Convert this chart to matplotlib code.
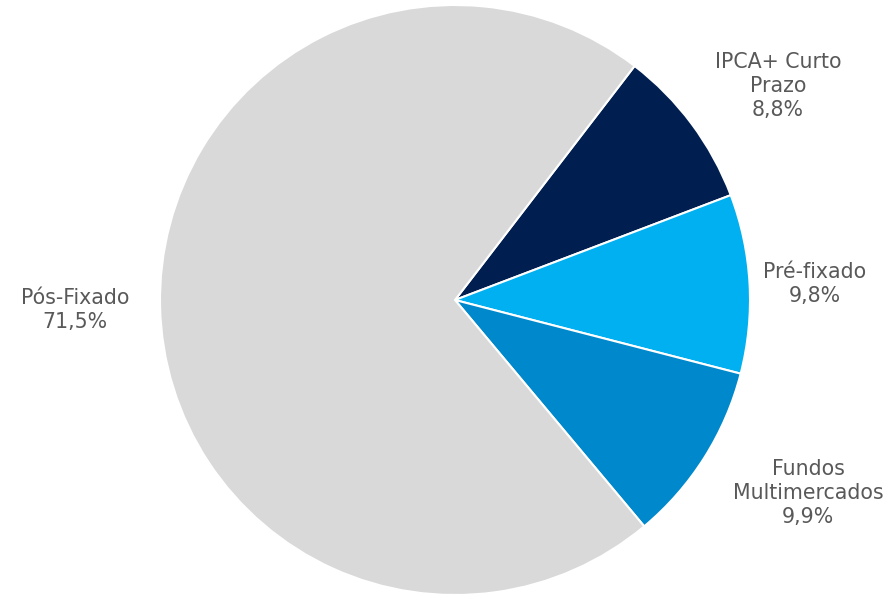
import matplotlib
matplotlib.use("Agg")
import matplotlib.pyplot as plt
import numpy as np

categories = ["IPCA+ Curto\nPrazo", "Pré-fixado", "Fundos\nMultimercados", "Pós-Fixado"]
values = [8.8, 9.8, 9.9, 71.5]
colors = ["#001E50", "#00B0F0", "#0088CC", "#D9D9D9"]

# label placement (layout only): (x, y) in axes data units
label_pos = [(1.095, 0.725), (1.22, 0.055), (1.197, -0.655), (-1.288, -0.035)]

W, H = 893, 598
fig = plt.figure(figsize=(W / 100, H / 100), dpi=100)
cx, cy, r = 455, 300, 295
ax = fig.add_axes([(cx - r) / W, (H - cy - r) / H, 2 * r / W, 2 * r / H])
ax.pie(values, colors=colors, startangle=52.5, counterclock=False, radius=1,
       wedgeprops=dict(edgecolor="white", linewidth=1.5))
ax.set_xlim(-1, 1)
ax.set_ylim(-1, 1)
ax.set_aspect("equal")
ax.axis("off")

for cat, v, (x, y) in zip(categories, values, label_pos):
    txt = f"{cat}\n{v:.1f}%".replace(".", ",")
    ax.text(x, y, txt, ha="center", va="center", multialignment="center",
            fontsize=14.8, color="#595959", family=["DejaVu Sans"],
            linespacing=1.25, clip_on=False)

fig.savefig("out.png", dpi=100)
